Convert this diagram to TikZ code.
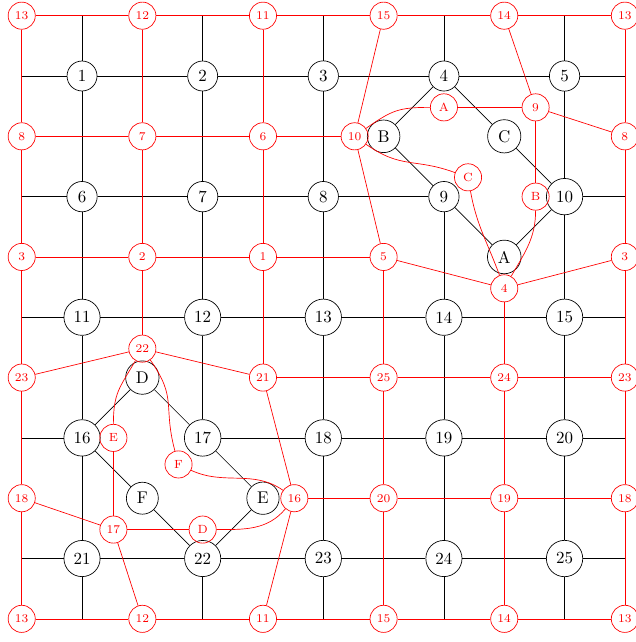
\documentclass[tikz,border=0pt]{standalone}
\usetikzlibrary{calc}

\begin{document}
\begin{tikzpicture}[
    pvert/.style={circle, draw, inner sep=0.3333em},
    dvert/.style={circle, draw=red, text=red, font=\scriptsize,
                  minimum size=16pt, inner sep=0.2em},
    dedge/.style={red},
  ]
  \useasboundingbox (-1.70,1.575) rectangle (11.48,-11.73);
  \def\gs{2.5}   % grid spacing, cm
  \def\gh{1.25}  % half spacing, cm

  % ------------------------------------------------------------------
  % Primal graph: 5 x 5 grid of vertices 1..25, plus the extra
  % vertices A..F of the two rewired squares
  % ------------------------------------------------------------------
  \foreach \row in {1,...,5} {
    \foreach \col in {1,...,5} {
      \pgfmathtruncatemacro{\n}{5*(\row-1)+\col}
      \node[pvert] (p\n) at ({\gs*(\col-1)},{-\gs*(\row-1)}) {\n};
    }
    % free ends on the dual boundary
    \coordinate (W\row) at (-\gh,{-\gs*(\row-1)});
    \coordinate (E\row) at ({4*\gs+\gh},{-\gs*(\row-1)});
    \coordinate (N\row) at ({\gs*(\row-1)},\gh);
    \coordinate (S\row) at ({\gs*(\row-1)},{-4*\gs-\gh});
  }
  \node[pvert] (pA) at (8.75,-3.75) {A};
  \node[pvert] (pB) at (6.25,-1.25) {B};
  \node[pvert] (pC) at (8.75,-1.25) {C};
  \node[pvert] (pD) at (1.25,-6.25) {D};
  \node[pvert] (pE) at (3.75,-8.75) {E};
  \node[pvert] (pF) at (1.25,-8.75) {F};

  % grid edges, without 9--10, 16--17 (horizontal) and 4--9, 17--22
  \foreach \row in {0,...,4} {
    \foreach \col in {1,...,4} {
      \pgfmathtruncatemacro{\na}{5*\row+\col}
      \pgfmathtruncatemacro{\nb}{\na+1}
      \ifnum\na=9 \else\ifnum\na=16 \else
        \draw (p\na) -- (p\nb);
      \fi\fi
    }
  }
  \foreach \row in {0,...,3} {
    \foreach \col in {1,...,5} {
      \pgfmathtruncatemacro{\na}{5*\row+\col}
      \pgfmathtruncatemacro{\nb}{\na+5}
      \ifnum\na=4 \else\ifnum\na=17 \else
        \draw (p\na) -- (p\nb);
      \fi\fi
    }
  }
  % half edges out to the boundary
  \foreach \i in {1,...,5} {
    \pgfmathtruncatemacro{\pw}{5*\i-4}
    \pgfmathtruncatemacro{\pe}{5*\i}
    \pgfmathtruncatemacro{\ps}{20+\i}
    \draw (W\i) -- (p\pw);
    \draw (p\pe) -- (E\i);
    \draw (N\i) -- (p\i);
    \draw (p\ps) -- (S\i);
  }
  % rewired squares
  \draw (p4) -- (pB) -- (p9) -- (pA) -- (p10) -- (pC) -- (p4);
  \draw (p16) -- (pD) -- (p17) -- (pE) -- (p22) -- (pF) -- (p16);

  % ------------------------------------------------------------------
  % Dual graph (red): vertex d<col><row>, 0 = moved, placed by hand
  % ------------------------------------------------------------------
  \foreach \labs [count=\drow from 0] in {{13,12,11,15,14,13},{8,7,6,0,0,8},{3,2,1,5,0,3},{23,0,21,25,24,23},{18,0,0,20,19,18},{13,12,11,15,14,13}} {
    \foreach \lab [count=\dcol from 0] in \labs {
      \ifnum\lab=0 \else
        \node[dvert] (d\dcol\drow) at ({\gs*\dcol-\gh},{\gh-\gs*\drow}) {\lab};
      \fi
    }
  }
  \node[dvert] (d31) at (5.65,-1.25) {10};
  \node[dvert] (d41) at (9.4,-0.65) {9};
  \node[dvert] (d42) at (8.75,-4.4) {4};
  \node[dvert] (d13) at (1.25,-5.65) {22};
  \node[dvert] (d14) at (0.65,-9.4) {17};
  \node[dvert] (d24) at (4.4,-8.75) {16};
  \node[dvert] (dA) at (7.5,-0.65) {A};
  \node[dvert] (dB) at (9.4,-2.5) {B};
  \node[dvert] (dC) at (8.0,-2.1) {C};
  \node[dvert] (dD) at (2.5,-9.4) {D};
  \node[dvert] (dE) at (0.65,-7.5) {E};
  \node[dvert] (dF) at (2.0,-8.05) {F};

  % dual grid edges, without 10--9, 17--16 (horizontal) and 9--4, 22--17
  \foreach \drow in {0,...,5} {
    \foreach \dcol in {0,...,4} {
      \pgfmathtruncatemacro{\dnext}{\dcol+1}
      \ifnum\dcol\drow=31 \else\ifnum\dcol\drow=14 \else
        \draw[dedge] (d\dcol\drow) -- (d\dnext\drow);
      \fi\fi
    }
  }
  \foreach \dcol in {0,...,5} {
    \foreach \drow in {0,...,4} {
      \pgfmathtruncatemacro{\dnext}{\drow+1}
      \ifnum\dcol\drow=41 \else\ifnum\dcol\drow=13 \else
        \draw[dedge] (d\dcol\drow) -- (d\dcol\dnext);
      \fi\fi
    }
  }

  % rewired faces, top right
  \draw[dedge] (dA) -- (d41) -- (dB);
  \draw[dedge] (d31) to[out=35,in=180,looseness=1.2] (dA);
  \draw[dedge] (d31) to[out=-35,in=160,looseness=1.2] (dC);
  \draw[dedge] (dC) to[out=-80,in=110] (d42);
  \draw[dedge] (dB) to[out=-90,in=60] (d42);
  % rewired faces, bottom left
  \draw[dedge] (dE) -- (d14) -- (dD);
  \draw[dedge] (d13) to[out=-120,in=90,looseness=1.2] (dE);
  \draw[dedge] (d13) to[out=-55,in=105,looseness=1.3] (dF);
  \draw[dedge] (dF) to[out=-25,in=145] (d24);
  \draw[dedge] (dD) to[out=0,in=-130] (d24);

\end{tikzpicture}
\end{document}
